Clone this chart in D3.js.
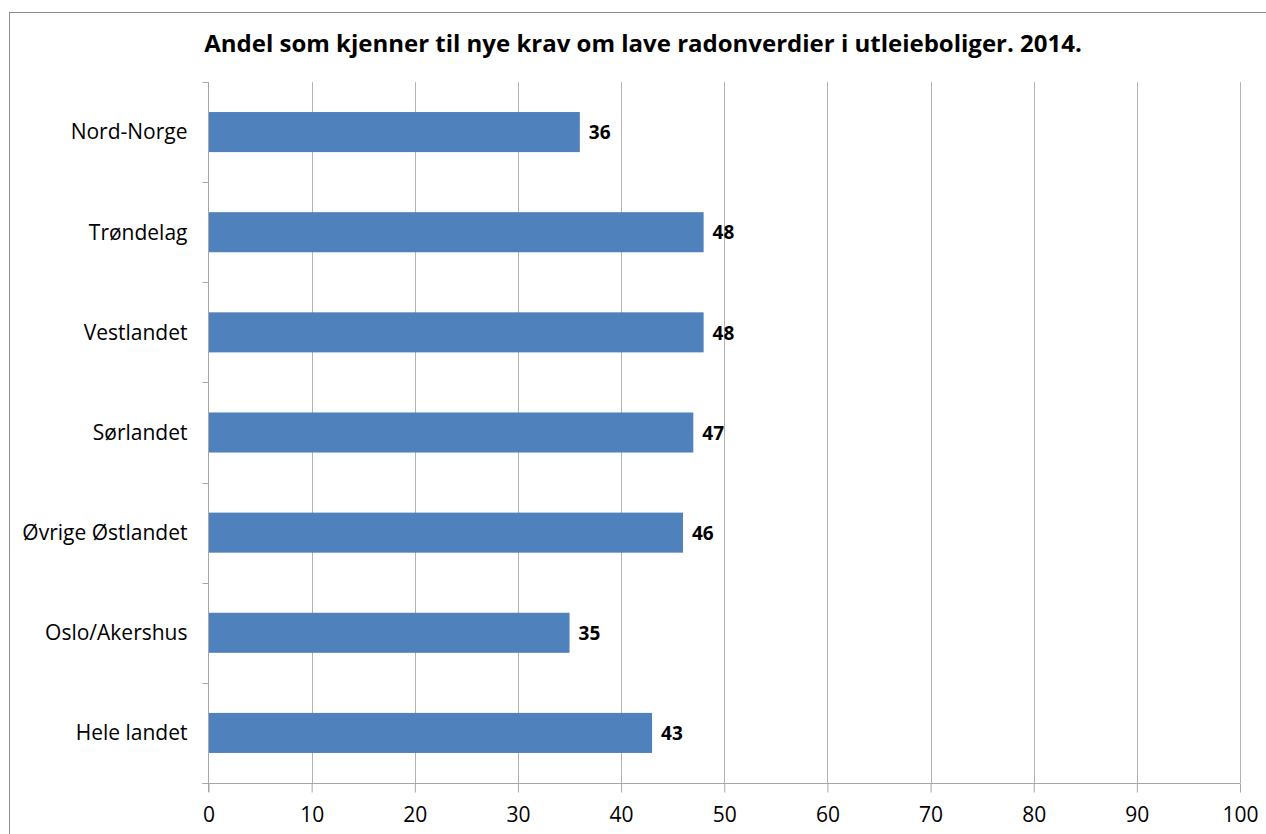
<!DOCTYPE html>
<html>
<head>
<meta charset="utf-8">
<script src="https://cdn.jsdelivr.net/npm/d3@7"></script>
<style>
  html, body { margin: 0; padding: 0; background: #fff; }
  svg { display: block; }
  text { font-family: "Open Sans", "Liberation Sans", sans-serif; }
</style>
</head>
<body>
<svg id="chart" width="1266" height="834"></svg>
<script>
const categories = ["Nord-Norge", "Trøndelag", "Vestlandet", "Sørlandet", "Øvrige Østlandet", "Oslo/Akershus", "Hele landet"];
const values = [36, 48, 48, 47, 46, 35, 43];
const xTicks = [0, 10, 20, 30, 40, 50, 60, 70, 80, 90, 100];
const title = "Andel som kjenner til nye krav om lave radonverdier i utleieboliger. 2014.";

const svg = d3.select("#chart");
const W = 1266, H = 834;
const m = { left: 208.5, right: 1240, top: 82, bottom: 783 };

// outer border
svg.append("rect").attr("x", 9.5).attr("y", 12.5).attr("width", W + 20).attr("height", H + 20)
  .attr("fill", "none").attr("stroke", "#8c8c8c").attr("stroke-width", 1);

const x = d3.scaleLinear().domain([0, 100]).range([m.left, m.right]);
const y = d3.scaleBand().domain(categories).range([m.top, m.bottom]).paddingInner(0.6).paddingOuter(0.3);
const yb = d3.scaleBand().domain(categories).range([m.top, m.bottom]);

// gridlines
svg.append("g").selectAll("line").data(xTicks.filter(d => d > 0)).join("line")
  .attr("x1", d => Math.round(x(d)) + 0.5).attr("x2", d => Math.round(x(d)) + 0.5)
  .attr("y1", m.top).attr("y2", m.bottom)
  .attr("stroke", "#b3b3b3").attr("stroke-width", 1);

// bars
svg.append("g").selectAll("rect").data(values).join("rect")
  .attr("x", x(0)).attr("y", (d, i) => y(categories[i]))
  .attr("width", d => x(d) - x(0)).attr("height", y.bandwidth())
  .attr("fill", "#4f81bd");

// value labels
svg.append("g").selectAll("text").data(values).join("text")
  .attr("x", d => x(d) + 9).attr("y", (d, i) => y(categories[i]) + y.bandwidth() / 2)
  .attr("dy", "0.38em").attr("font-size", 19).attr("font-weight", "bold").attr("fill", "#000")
  .text(d => d);

// x axis
const xAxis = d3.axisBottom(x).tickValues(xTicks).tickSize(9).tickPadding(15).tickSizeOuter(0);
const gx = svg.append("g").attr("transform", `translate(0,${m.bottom + 0.5})`).call(xAxis);
gx.select(".domain").attr("stroke", "#a6a6a6").attr("d", `M${m.left - 6},0H${m.right}`);
gx.selectAll(".tick line").attr("stroke", "#a6a6a6");
gx.selectAll(".tick text").attr("font-size", 21).attr("fill", "#000")
  .attr("font-family", "'Open Sans', 'Liberation Sans', sans-serif");

// y axis
const gy = svg.append("g").attr("transform", `translate(${m.left},0)`);
gy.append("line").attr("x1", 0).attr("x2", 0).attr("y1", m.top).attr("y2", m.bottom + 9)
  .attr("stroke", "#a6a6a6");
const bounds = categories.map(c => yb(c)).concat([m.bottom]);
gy.selectAll("line.t").data(bounds).join("line").attr("class", "t")
  .attr("x1", -6).attr("x2", 0).attr("y1", d => Math.round(d) + 0.5).attr("y2", d => Math.round(d) + 0.5)
  .attr("stroke", "#a6a6a6");
gy.selectAll("text").data(categories).join("text")
  .attr("x", -21).attr("y", d => yb(d) + yb.bandwidth() / 2).attr("dy", "0.35em")
  .attr("text-anchor", "end").attr("font-size", 21).attr("fill", "#000").text(d => d);

// title
svg.append("text").attr("x", 643).attr("y", 52).attr("text-anchor", "middle")
  .attr("font-size", 24).attr("font-weight", "bold").attr("fill", "#000").text(title);
</script>
</body>
</html>
